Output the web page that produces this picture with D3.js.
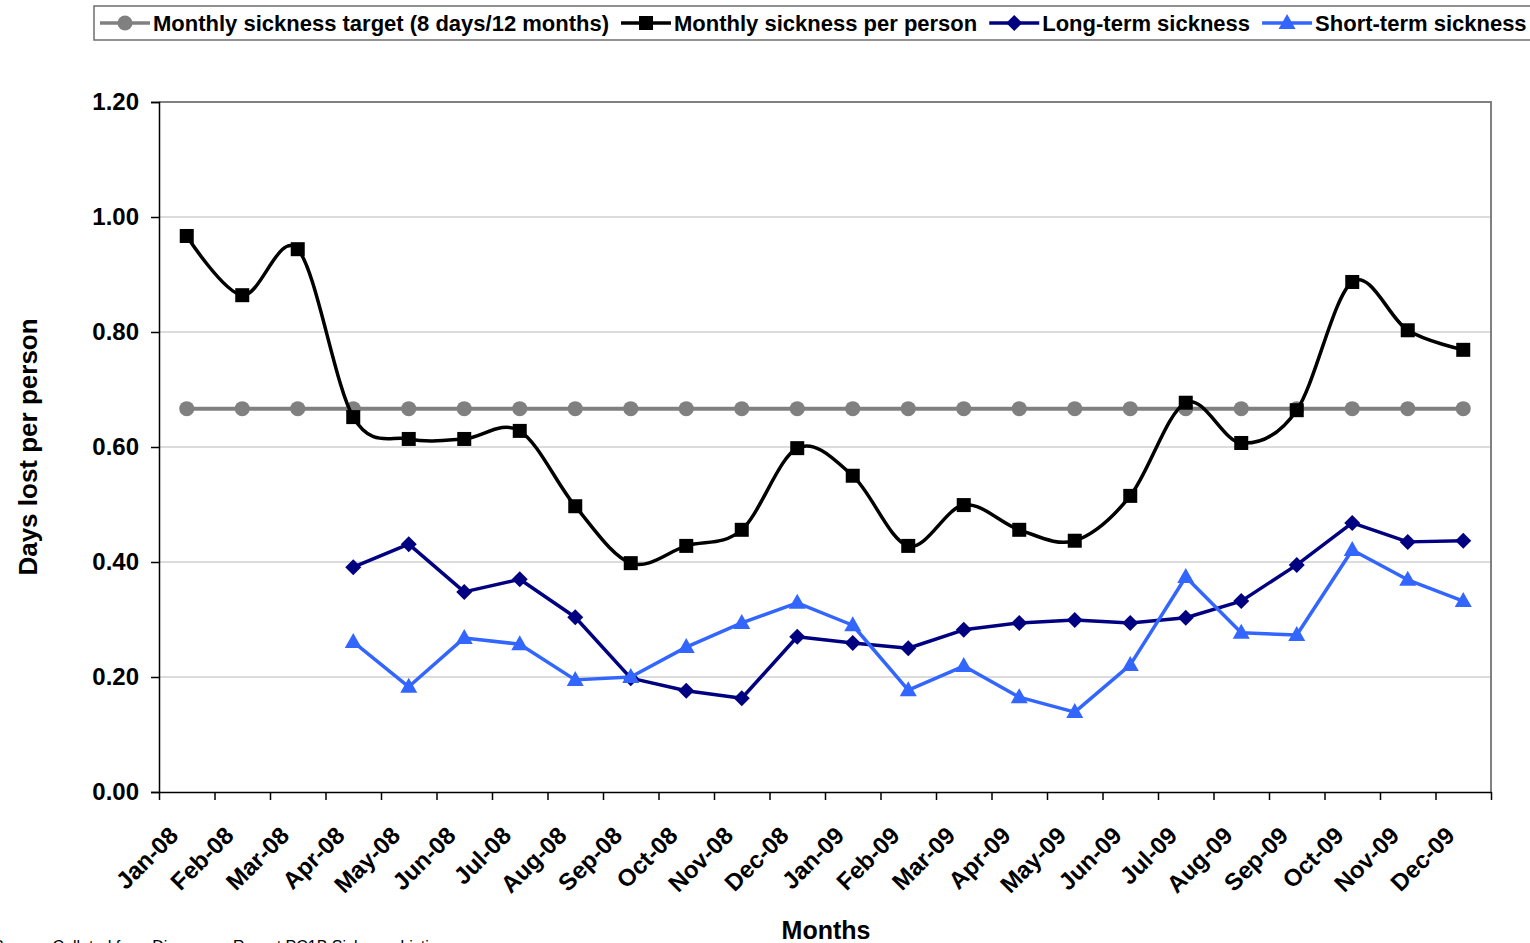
<!DOCTYPE html>
<html>
<head>
<meta charset="utf-8">
<script src="https://cdn.jsdelivr.net/npm/d3@7"></script>
<style>
  body { margin: 0; background: #fff; overflow: hidden; }
  svg { display: block; font-family: "Liberation Sans", Arial, sans-serif; }
</style>
</head>
<body>
<div id="chart"></div>
<script>
// data
const months = ["Jan-08","Feb-08","Mar-08","Apr-08","May-08","Jun-08","Jul-08","Aug-08","Sep-08","Oct-08","Nov-08","Dec-08",
                "Jan-09","Feb-09","Mar-09","Apr-09","May-09","Jun-09","Jul-09","Aug-09","Sep-09","Oct-09","Nov-09","Dec-09"];
const target = months.map(() => 8 / 12);
const perPerson = [0.967,0.864,0.944,0.652,0.614,0.614,0.628,0.497,0.398,0.428,0.456,0.598,
                   0.550,0.428,0.499,0.456,0.437,0.515,0.677,0.607,0.664,0.887,0.803,0.769];
const longTerm = [null,null,null,0.391,0.431,0.348,0.370,0.304,0.198,0.176,0.163,0.270,
                  0.259,0.250,0.282,0.294,0.299,0.294,0.303,0.332,0.395,0.468,0.435,0.437];
const shortTerm = [null,null,null,0.261,0.183,0.268,0.257,0.195,0.200,0.252,0.294,0.329,
                   0.290,0.177,0.219,0.165,0.139,0.221,0.374,0.277,0.273,0.421,0.369,0.332];
const yTicks = [0, 0.2, 0.4, 0.6, 0.8, 1.0, 1.2];

const series = [
  { name: "Monthly sickness target (8 days/12 months)", values: target, color: "#808080", marker: "circle", smooth: false },
  { name: "Monthly sickness per person", values: perPerson, color: "#000000", marker: "square", smooth: true },
  { name: "Long-term sickness", values: longTerm, color: "#000080", marker: "diamond", smooth: false },
  { name: "Short-term sickness", values: shortTerm, color: "#3366ff", marker: "triangle", smooth: false }
];

const W = 1530, H = 943;
const margin = { top: 102, right: 39, bottom: 151, left: 159 };
const width = W - margin.left - margin.right;
const height = H - margin.top - margin.bottom;

const svg = d3.select("#chart").append("svg")
  .attr("width", W).attr("height", H);

const g = svg.append("g")
  .attr("transform", `translate(${margin.left},${margin.top})`);

const x = d3.scaleBand().domain(months).range([0, width]);
const xEdge = d3.scaleLinear().domain([0, months.length]).range([0, width]);
const y = d3.scaleLinear().domain([0, 1.2]).range([height, 0]);
const cx = d => x(d) + x.bandwidth() / 2;

// gridlines
g.append("g")
  .selectAll("line")
  .data(yTicks.filter(t => t > 0 && t < 1.2))
  .join("line")
  .attr("x1", 0).attr("x2", width)
  .attr("y1", d => y(d)).attr("y2", d => y(d))
  .attr("stroke", "#b8b8b8").attr("stroke-width", 1);

// plot border top / right
g.append("path")
  .attr("d", `M0,${y(1.2)}H${width}V${height}`)
  .attr("fill", "none").attr("stroke", "#808080").attr("stroke-width", 2);

// y axis
const yAxis = g.append("g")
  .call(d3.axisLeft(y).tickValues(yTicks).tickFormat(d3.format(".2f")).tickSize(8).tickPadding(12));
yAxis.select(".domain").attr("stroke", "#000").attr("stroke-width", 1.5);
yAxis.selectAll(".tick line").attr("stroke", "#000").attr("stroke-width", 1.5);
yAxis.selectAll("text").attr("font-size", 24).attr("font-weight", "bold").attr("fill", "#000");

// x axis: ticks on category boundaries
const xAxis = g.append("g")
  .attr("transform", `translate(0,${height})`)
  .call(d3.axisBottom(xEdge).tickValues(d3.range(months.length + 1)).tickFormat("").tickSize(8).tickSizeOuter(0));
xAxis.select(".domain").attr("stroke", "#000").attr("stroke-width", 1.5);
xAxis.selectAll(".tick line").attr("stroke", "#000").attr("stroke-width", 1.5);

g.append("g")
  .selectAll("text")
  .data(months)
  .join("text")
  .attr("transform", d => `translate(${cx(d) - 7},${height + 45}) rotate(-45)`)
  .attr("text-anchor", "end")
  .attr("font-size", 24).attr("font-weight", "bold")
  .text(d => d);

// axis titles
svg.append("text")
  .attr("transform", `translate(37,${margin.top + height / 2}) rotate(-90)`)
  .attr("text-anchor", "middle")
  .attr("font-size", 26).attr("font-weight", "bold")
  .text("Days lost per person");

svg.append("text")
  .attr("x", 826).attr("y", 939)
  .attr("text-anchor", "middle")
  .attr("font-size", 25).attr("font-weight", "bold")
  .text("Months");

svg.append("text")
  .attr("x", -7).attr("y", 952)
  .attr("font-size", 16)
  .text("Source: Collated from Discoverer Report PC1B Sickness Listing");

// marker shapes
function drawMarker(sel, type, color) {
  if (type === "circle") {
    sel.append("circle").attr("r", 7.5).attr("fill", color);
  } else if (type === "square") {
    sel.append("rect").attr("x", -7).attr("y", -7).attr("width", 14).attr("height", 14).attr("fill", color);
  } else if (type === "diamond") {
    sel.append("path").attr("d", "M0,-8L8,0L0,8L-8,0Z").attr("fill", color);
  } else {
    sel.append("path").attr("d", "M0,-9L8.5,6L-8.5,6Z").attr("fill", color);
  }
}

// series lines + markers
series.forEach(s => {
  const pts = months.map((m, i) => ({ m, v: s.values[i] })).filter(p => p.v != null);
  const line = d3.line()
    .x(p => cx(p.m))
    .y(p => y(p.v))
    .curve(s.smooth ? d3.curveCatmullRom.alpha(0) : d3.curveLinear);
  g.append("path")
    .datum(pts)
    .attr("d", line)
    .attr("fill", "none")
    .attr("stroke", s.color)
    .attr("stroke-width", s.marker === "circle" ? 4 : 3.5)
    .attr("stroke-linejoin", "round");
  g.append("g")
    .selectAll("g")
    .data(pts)
    .join("g")
    .attr("transform", p => `translate(${cx(p.m)},${y(p.v)})`)
    .each(function () { drawMarker(d3.select(this), s.marker, s.color); });
});

// legend
const legend = svg.append("g");
legend.append("rect")
  .attr("x", 94).attr("y", 6).attr("width", 1450).attr("height", 34)
  .attr("fill", "#fff").attr("stroke", "#6e6e6e").attr("stroke-width", 1.5);

let lx = 100;
series.forEach(s => {
  const item = legend.append("g").attr("transform", `translate(${lx},23)`);
  item.append("line").attr("x1", 0).attr("x2", 50)
    .attr("stroke", s.color).attr("stroke-width", 3.5);
  const mk = item.append("g").attr("transform", "translate(25,0)");
  drawMarker(mk, s.marker, s.color);
  const t = item.append("text")
    .attr("x", 53).attr("y", 8)
    .attr("font-size", 22).attr("font-weight", "bold")
    .text(s.name);
  lx += 53 + t.node().getComputedTextLength() + 12;
});
</script>
</body>
</html>
